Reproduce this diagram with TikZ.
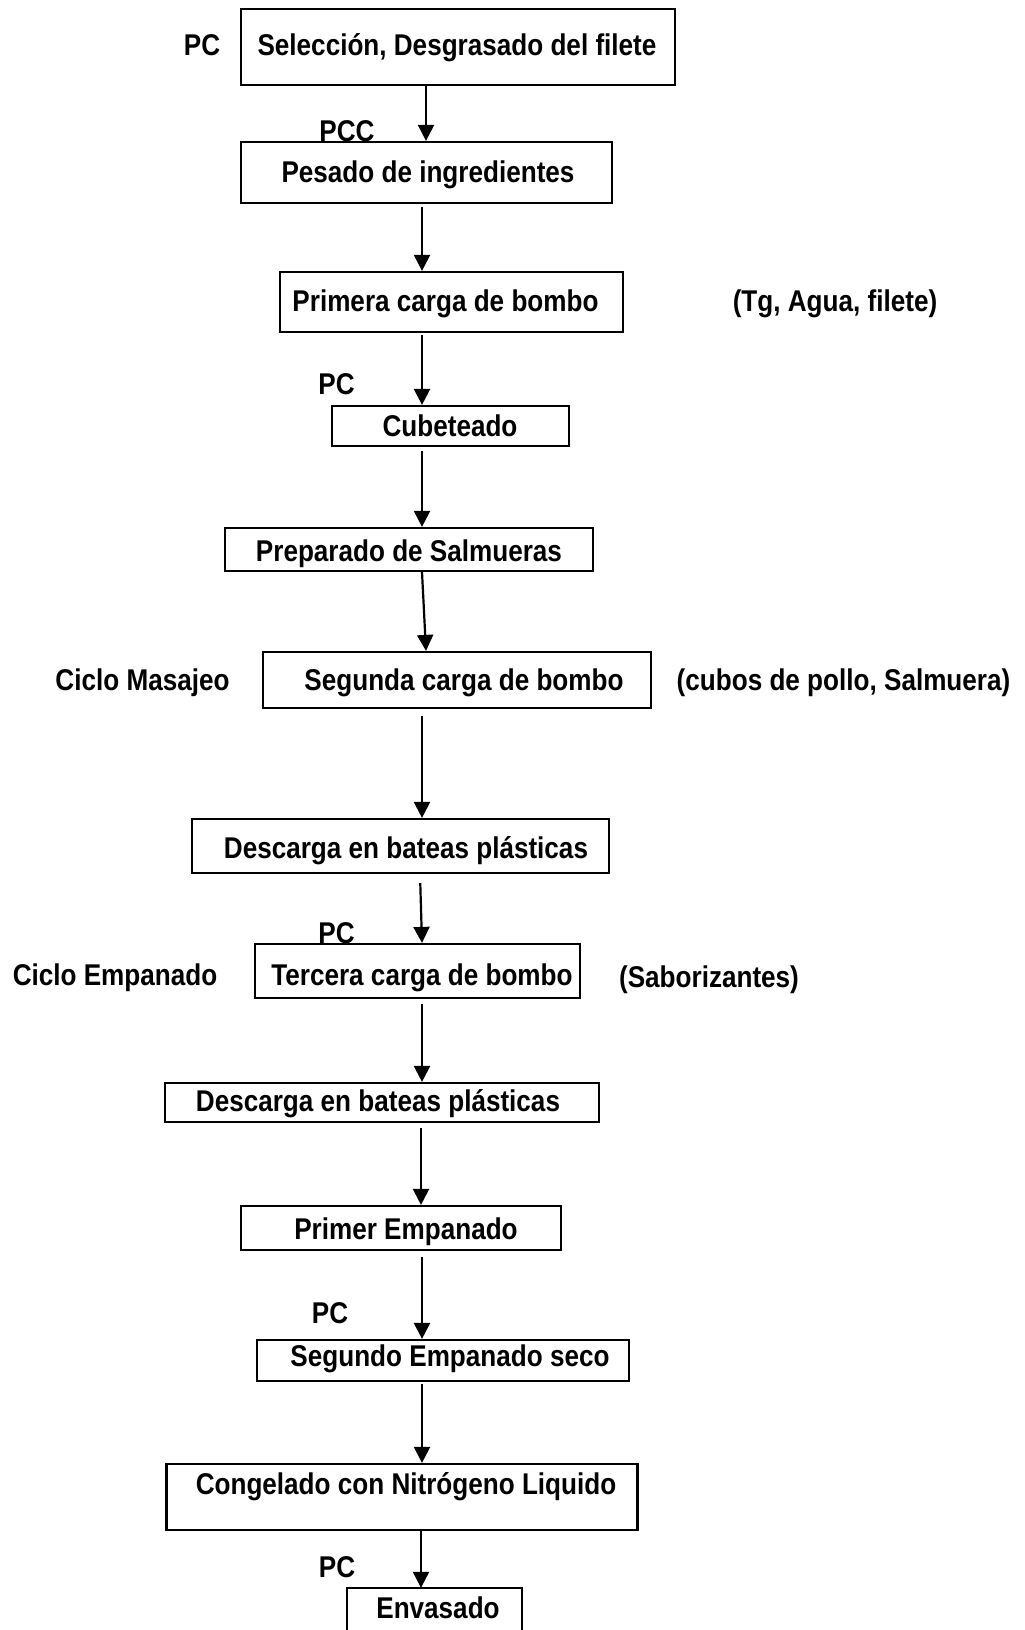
\documentclass[tikz,border=0pt]{standalone}
\usepackage{fontspec}
\setmainfont{Liberation Sans}[FakeStretch=0.87]
\usetikzlibrary{arrows.meta}
\begin{document}
\begin{tikzpicture}[x=1pt,y=-1pt,
  bx/.style={draw,line width=2.2pt,inner sep=0pt},
  tx/.style={inner sep=0pt,text height=21.5pt,text depth=0pt,font=\fontsize{30}{35}\selectfont\bfseries},
  arr/.style={line width=2.2pt,-{Triangle[width=16pt,length=16pt]}}]
\useasboundingbox (0,0) rectangle (1025,1630);
% boxes
\node[bx,minimum width=434pt,minimum height=76pt] (b1) at (458,47) {};
\node[bx,minimum width=371pt,minimum height=61pt] (b2) at (426.5,172.5) {};
\node[bx,minimum width=343pt,minimum height=60pt] (b3) at (451.5,302) {};
\node[bx,minimum width=237pt,minimum height=40pt] (b4) at (450.5,426) {};
\node[bx,minimum width=368pt,minimum height=43pt] (b5) at (409,549.5) {};
\node[bx,minimum width=388pt,minimum height=56pt] (b6) at (457,680) {};
\node[bx,minimum width=417pt,minimum height=54pt] (b7) at (400.5,846) {};
\node[bx,minimum width=325pt,minimum height=54pt] (b8) at (417.5,971) {};
\node[bx,minimum width=434pt,minimum height=39pt] (b9) at (382,1102.5) {};
\node[bx,minimum width=320pt,minimum height=44pt] (b10) at (401,1228) {};
\node[bx,minimum width=372pt,minimum height=41pt] (b11) at (443,1360.5) {};
\node[bx,minimum width=471pt,minimum height=66pt] (b12) at (402,1497) {};
\node[inner sep=0pt,minimum width=175pt,minimum height=48pt] (b13) at (434.5,1612) {};
\draw[line width=2.2pt] (b13.south west) -- (b13.north west) -- (b13.north east) -- (b13.south east);
% texts
\node[tx] (t1) at (457,45) {Selección, Desgrasado del filete};
\node[tx] (pc1) at (202,45) {PC};
\node[tx] (t2) at (428,172) {Pesado de ingredientes};
\node[tx] (pcc) at (347,131) {PCC};
\node[tx] (t3) at (445.5,300.5) {Primera carga de bombo};
\node[tx] (tg) at (835,301) {(Tg, Agua, filete)};
\node[tx] (pc2) at (336.5,383.5) {PC};
\node[tx] (t4) at (450,426) {Cubeteado};
\node[tx] (t5) at (409,551) {Preparado de Salmueras};
\node[tx] (cm) at (142.5,680) {Ciclo Masajeo};
\node[tx] (t6) at (464,680) {Segunda carga de bombo};
\node[tx] (cp) at (843.5,680) {(cubos de pollo, Salmuera)};
\node[tx] (t7) at (406,848) {Descarga en bateas plásticas};
\node[tx] (pc3) at (336.5,932.5) {PC};
\node[tx] (ce) at (115,975) {Ciclo Empanado};
\node[tx] (t8) at (422,975) {Tercera carga de bombo};
\node[tx] (sab) at (709,977) {(Saborizantes)};
\node[tx] (t9) at (378,1101) {Descarga en bateas plásticas};
\node[tx] (t10) at (406,1229) {Primer Empanado};
\node[tx] (pc4) at (330,1313) {PC};
\node[tx] (t11) at (450,1356) {Segundo Empanado seco};
\node[tx] (t12) at (406,1483.5) {Congelado con Nitrógeno Liquido};
\node[tx] (pc5) at (337,1567) {PC};
\node[tx] (t13) at (438,1608) {Envasado};
% arrows
\draw[arr] (426,0 |- b1.south) -- (426,0 |- b2.north);
\draw[arr,shorten <=3pt] (422,0 |- b2.south) -- (422,0 |- b3.north);
\draw[arr,shorten <=2pt] (422,0 |- b3.south) -- (422,0 |- b4.north);
\draw[arr,shorten <=4pt] (422,0 |- b4.south) -- (422,0 |- b5.north);
\draw[arr] (422,0 |- b5.south) -- (426,0 |- b6.north);
\draw[arr,shorten <=7pt] (422,0 |- b6.south) -- (422,0 |- b7.north);
\draw[arr,shorten <=9pt] (420,0 |- b7.south) -- (422,0 |- b8.north);
\draw[arr,shorten <=5pt] (422,0 |- b8.south) -- (422,0 |- b9.north);
\draw[arr,shorten <=5pt] (421,0 |- b9.south) -- (421,0 |- b10.north);
\draw[arr,shorten <=6pt] (422,0 |- b10.south) -- (422,0 |- b11.north);
\draw[arr,shorten <=2pt] (422,0 |- b11.south) -- (422,0 |- b12.north);
\draw[arr] (421,0 |- b12.south) -- (421,0 |- b13.north);
\end{tikzpicture}
\end{document}
